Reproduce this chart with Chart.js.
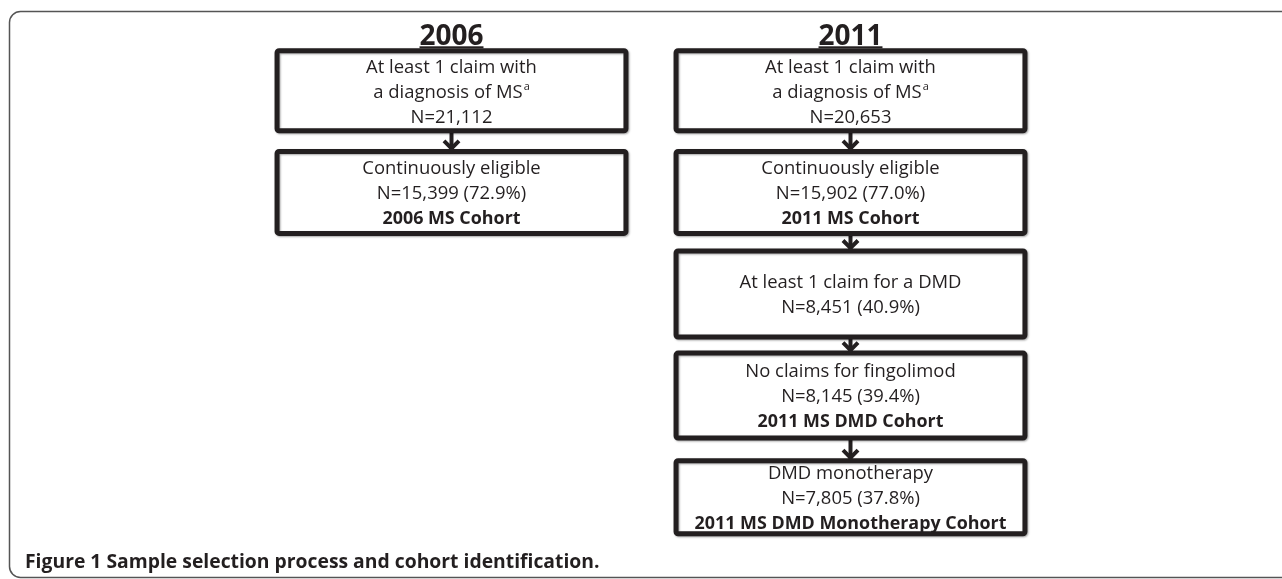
<!DOCTYPE html>
<html><head><meta charset="utf-8">
<script src="https://cdn.jsdelivr.net/npm/chart.js@4/dist/chart.umd.min.js"></script>
<style>html,body{margin:0;padding:0;background:#fff;} #wrap{width:1282px;height:579px;position:relative}</style>
</head><body><div id="wrap"><canvas id="c" width="1282" height="579"></canvas></div>
<script>
// ---- data ----
const years = ['2006', '2011'];
const steps = ['Diagnosis', 'Eligible', 'DMD', 'NoFingolimod', 'Monotherapy'];
const stepText = [
  ['At least 1 claim with', 'a diagnosis of MS'],
  ['Continuously eligible'],
  ['At least 1 claim for a DMD'],
  ['No claims for fingolimod'],
  ['DMD monotherapy']
];
const stepNote = ['a', '', '', '', ''];
const n2006 = [21112, 15399];
const pct2006 = [null, 72.9];
const cohort2006 = [null, '2006 MS Cohort'];
const n2011 = [20653, 15902, 8451, 8145, 7805];
const pct2011 = [null, 77.0, 40.9, 39.4, 37.8];
const cohort2011 = [null, '2011 MS Cohort', null, '2011 MS DMD Cohort', '2011 MS DMD Monotherapy Cohort'];
const captionBold = 'Figure 1';
const captionText = 'Sample selection process and cohort identification.';

function mk(year, ns, pcts, cohorts) {
  return ns.map((n, i) => ({ x: year, y: steps[i], n: n, pct: pcts[i], cohort: cohorts[i], step: i }));
}

const FONT = '"Open Sans", Lato, sans-serif';
const INK = '#231f20';

function fitSize(ctx, sample, weight, target) {
  ctx.font = weight + ' 20px ' + FONT;
  return 20 * target / ctx.measureText(sample).width;
}

const flowPlugin = {
  id: 'flow',
  afterDatasetsDraw(chart, args, opts) {
    const ctx = chart.ctx;
    const ca = chart.chartArea;
    const xs = chart.scales.x;
    const colW = ca.width / years.length;
    const boxW = colW * opts.widthRatio;
    const hs = opts.boxHeights;
    ctx.save();
    const fsReg = fitSize(ctx, stepText[0][0], 'normal', 171);
    const fsBold = fitSize(ctx, cohort2011[4], 'bold', 312);
    const fsHead = fitSize(ctx, years[0], 'bold', 64);
    const fsCap = fitSize(ctx, captionBold + ' ' + captionText, 'bold', 575);
    // outer frame
    ctx.strokeStyle = '#555';
    ctx.lineWidth = 1.5;
    ctx.beginPath();
    ctx.roundRect(9.5, 11.5, 1320, 566, 11);
    ctx.stroke();

    chart.data.datasets.forEach((ds, di) => {
      const meta = chart.getDatasetMeta(di);
      const els = meta.data;
      // arrows
      for (let i = 0; i < els.length - 1; i++) {
        const cx = els[i].x;
        const y0 = els[i].y + hs[ds.data[i].step] / 2 - 2;
        const y1 = els[i + 1].y - hs[ds.data[i + 1].step] / 2 + 1;
        ctx.strokeStyle = INK;
        ctx.lineWidth = 4;
        ctx.lineCap = 'butt';
        ctx.lineJoin = 'miter';
        ctx.beginPath();
        ctx.moveTo(cx, y0);
        ctx.lineTo(cx, y1);
        ctx.stroke();
        ctx.beginPath();
        ctx.moveTo(cx - 7.5, y1 - 9);
        ctx.lineTo(cx, y1 - 1.5);
        ctx.lineTo(cx + 7.5, y1 - 9);
        ctx.stroke();
      }
      // boxes
      els.forEach((el, i) => {
        const d = ds.data[i];
        const h = hs[d.step];
        const x0 = el.x - boxW / 2, y0 = el.y - h / 2;
        ctx.save();
        ctx.shadowColor = 'rgba(0,0,0,0.35)';
        ctx.shadowBlur = 2;
        ctx.shadowOffsetX = 1;
        ctx.shadowOffsetY = 1;
        ctx.fillStyle = '#fff';
        ctx.strokeStyle = INK;
        ctx.lineWidth = 5;
        ctx.beginPath();
        ctx.roundRect(x0 + 2.5, y0 + 2.5, boxW - 5, h - 5, 2);
        ctx.fill();
        ctx.stroke();
        ctx.restore();
        // text
        const lines = stepText[d.step].map((t, k, a) => ({ t, bold: false, note: k === a.length - 1 ? stepNote[d.step] : '' }));
        lines.push({ t: 'N=' + d.n.toLocaleString('en-US') + (d.pct != null ? ' (' + d.pct.toFixed(1) + '%)' : ''), bold: false, note: '' });
        if (d.cohort) lines.push({ t: d.cohort, bold: true, note: '' });
        const L = lines.length;
        ctx.fillStyle = INK;
        ctx.textBaseline = 'middle';
        lines.forEach((ln, k) => {
          const ly = el.y + 1.5 + (k - (L - 1) / 2) * 25;
          const f = ln.bold ? 'bold ' + fsBold + 'px ' + FONT : fsReg + 'px ' + FONT;
          ctx.font = f;
          const w = ctx.measureText(ln.t).width;
          let ws = 0;
          if (ln.note) { ctx.font = '11px ' + FONT; ws = ctx.measureText(ln.note).width + 1; }
          const lx = el.x - (w + ws) / 2;
          ctx.font = f;
          ctx.textAlign = 'left';
          ctx.fillText(ln.t, lx, ly);
          if (ln.note) {
            ctx.font = '11px ' + FONT;
            ctx.fillText(ln.note, lx + w + 1, ly - 5);
          }
        });
      });
      // header
      const first = els[0];
      const topY = first.y - hs[ds.data[0].step] / 2;
      ctx.font = 'bold ' + fsHead + 'px ' + FONT;
      ctx.textAlign = 'center';
      ctx.textBaseline = 'alphabetic';
      ctx.fillStyle = INK;
      const hx = xs.getPixelForValue(di);
      ctx.fillText(ds.label, hx, topY - 3);
      const hw = ctx.measureText(ds.label).width;
      ctx.fillRect(hx - hw / 2, topY - 2, hw, 2);
    });

    // caption
    ctx.textAlign = 'left';
    ctx.textBaseline = 'alphabetic';
    ctx.fillStyle = INK;
    ctx.font = 'bold ' + fsCap + 'px ' + FONT;
    ctx.fillText(captionBold, 25, 568);
    const cw = ctx.measureText(captionBold + ' ').width;
    ctx.fillText(captionText, 25 + cw, 568);
    ctx.restore();
  }
};

new Chart(document.getElementById('c'), {
  type: 'scatter',
  data: {
    datasets: [
      { label: years[0], data: mk(years[0], n2006, pct2006, cohort2006), pointRadius: 0 },
      { label: years[1], data: mk(years[1], n2011, pct2011, cohort2011), pointRadius: 0 }
    ]
  },
  options: {
    responsive: false,
    animation: false,
    events: [],
    layout: { padding: { left: 252, right: 232, top: 40, bottom: 31 } },
    scales: {
      x: { type: 'category', labels: years, offset: true, display: false },
      y: { type: 'category', labels: steps, offset: true, display: false }
    },
    plugins: {
      legend: { display: false },
      tooltip: { enabled: false },
      flow: { widthRatio: 0.887, boxHeights: [85, 87, 91, 90, 78] }
    }
  },
  plugins: [flowPlugin]
});
</script>
</body></html>
